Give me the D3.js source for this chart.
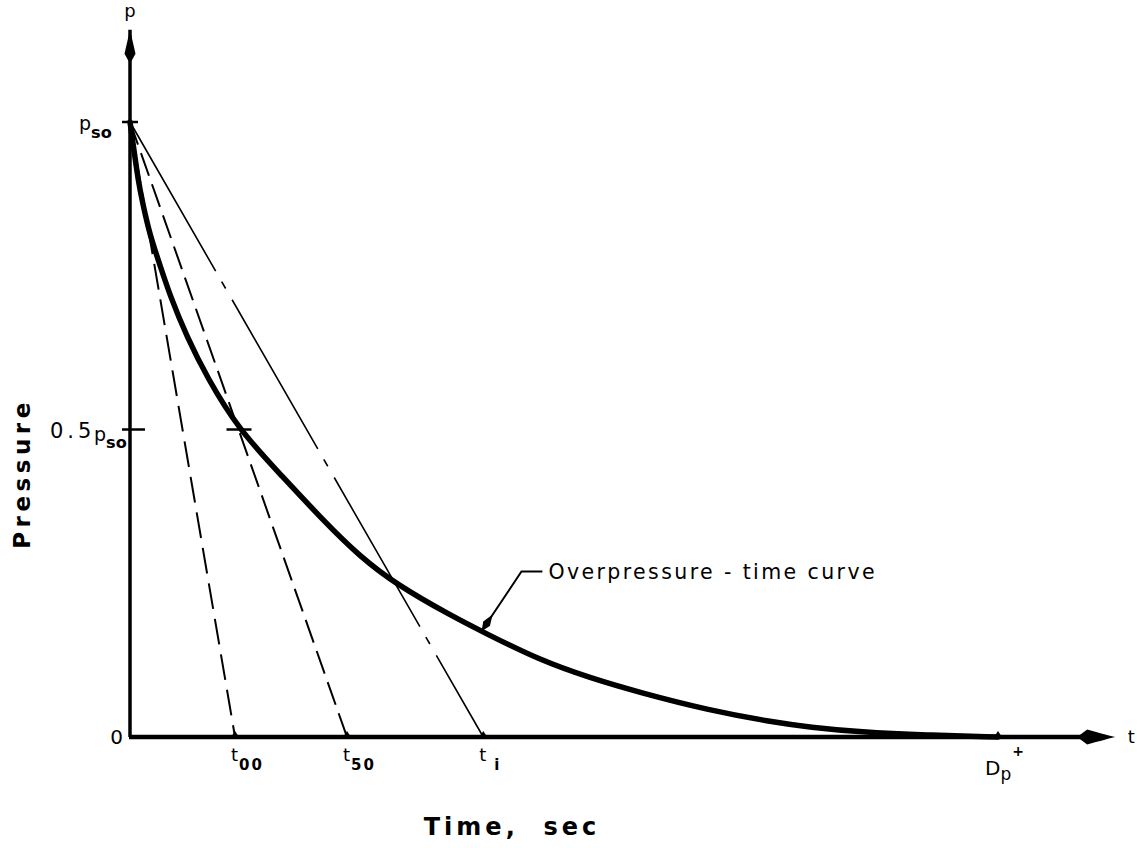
<!DOCTYPE html>
<html>
<head>
<meta charset="utf-8">
<script src="https://cdn.jsdelivr.net/npm/d3@7/dist/d3.min.js"></script>
<style>
  html, body { margin: 0; padding: 0; background: #fff; }
  svg { display: block; }
  text { font-family: "DejaVu Sans", sans-serif; fill: #000; }
</style>
</head>
<body>
<svg id="chart" width="1137" height="848"></svg>
<script>
// ---- data (time normalised to positive phase duration Dp+ = 1, pressure to p_so = 1) ----
const curveTime     = [0, 0.0046, 0.0092, 0.015, 0.023, 0.0346, 0.046, 0.0657, 0.0887, 0.125, 0.176, 0.222, 0.265, 0.308, 0.369, 0.409, 0.472, 0.530, 0.588, 0.665, 0.741, 0.783, 0.841, 0.918, 1.0];
const curvePressure = [1, 0.954, 0.907, 0.865, 0.816, 0.767, 0.718, 0.650, 0.585, 0.500, 0.423, 0.353, 0.293, 0.247, 0.198, 0.169, 0.125, 0.096, 0.072, 0.044, 0.024, 0.016, 0.008, 0.003, 0.0];

const lineNames      = ["00", "50", "i"];          // subscripts of t
const lineIntercepts = [0.121, 0.250, 0.407];      // where the straight lines from p_so meet p = 0
const durationTick   = 1.0;                        // Dp+
const yTickValues    = [0.5, 1.0];                 // 0.5 p_so, p_so
const annotationText = "Overpressure - time curve";
const annotationAt   = [0.405, 0.172];             // arrow tip (t, p)
const annotationElbow = [0.451, 0.269];
const annotationTextAt = [0.482, 0.269];

const svg = d3.select("#chart");
const x = d3.scaleLinear().domain([0, 1]).range([130, 998]);
const y = d3.scaleLinear().domain([0, 1]).range([737, 122]);
const xMax = 1.135, yMax = 1.15;

// ---- reference straight lines ----
const dashes = ["26,10", "24,9", "172,12,8,13"];
const widths = [2, 2, 1.6];
lineIntercepts.forEach((t, i) => {
  svg.append("line")
    .attr("x1", x(0)).attr("y1", y(1))
    .attr("x2", x(t)).attr("y2", y(0))
    .attr("stroke", "#000").attr("stroke-width", widths[i])
    .attr("stroke-dasharray", dashes[i]);
});

// ---- axes ----
svg.append("line").attr("x1", x(0)).attr("y1", y(0)).attr("x2", x(0)).attr("y2", y(yMax))
  .attr("stroke", "#000").attr("stroke-width", 3.5);
svg.append("line").attr("x1", x(0) - 1).attr("y1", y(0)).attr("x2", x(xMax) - 10).attr("y2", y(0))
  .attr("stroke", "#000").attr("stroke-width", 4.5);

// arrowheads
const ax = x(0), ay = y(yMax);
svg.append("path")
  .attr("d", `M${ax},${ay} L${ax + 5.5},${ay + 24} L${ax},${ay + 34} L${ax - 5.5},${ay + 24} Z`)
  .attr("fill", "#000");
const bx = x(xMax), by = y(0);
svg.append("path")
  .attr("d", `M${bx},${by} Q${bx - 12},${by - 3} ${bx - 28},${by - 7.5} L${bx - 38},${by} L${bx - 28},${by + 7.5} Q${bx - 12},${by + 3} ${bx},${by} Z`)
  .attr("fill", "#000");

// y ticks
const yAxis = d3.axisLeft(y).tickValues(yTickValues).tickSize(0).tickFormat("");
svg.append("g").attr("transform", `translate(${x(0)},0)`).call(yAxis).select(".domain").remove();
yTickValues.forEach(v => {
  const len = v === 1 ? 8 : 15;
  svg.append("line").attr("x1", x(0) - 8).attr("x2", x(0) + len)
    .attr("y1", y(v)).attr("y2", y(v)).attr("stroke", "#000").attr("stroke-width", 2.5);
});

// x ticks (small bumps)
[...lineIntercepts, durationTick].forEach(t => {
  svg.append("path")
    .attr("d", `M${x(t) - 4},${y(0)} L${x(t)},${y(0) - 6} L${x(t) + 4},${y(0)} Z`)
    .attr("fill", "#000");
});

// ---- curve ----
const pts = curveTime.map((t, i) => [t, curvePressure[i]]);
svg.append("path")
  .datum(pts)
  .attr("d", d3.line().x(d => x(d[0])).y(d => y(d[1])).curve(d3.curveBasis))
  .attr("fill", "none").attr("stroke", "#000").attr("stroke-width", 5.5).attr("stroke-linecap", "round");

// half-pressure marker on curve
svg.append("line").attr("x1", x(0.125) - 12).attr("x2", x(0.125) + 13)
  .attr("y1", y(0.5)).attr("y2", y(0.5)).attr("stroke", "#000").attr("stroke-width", 2.5);

// ---- annotation ----
const tip = [x(annotationAt[0]), y(annotationAt[1])];
const elb = [x(annotationElbow[0]), y(annotationElbow[1])];
svg.append("path")
  .attr("d", `M${tip[0]},${tip[1]} L${elb[0]},${elb[1]} L${x(annotationTextAt[0]) - 6},${elb[1]}`)
  .attr("fill", "none").attr("stroke", "#000").attr("stroke-width", 2);
// teardrop arrow
const ang = Math.atan2(elb[1] - tip[1], elb[0] - tip[0]);
const L = 20, W = 4;
const cx = Math.cos(ang), sy = Math.sin(ang);
const px = -sy, py = cx;
svg.append("path")
  .attr("d", `M${tip[0]},${tip[1]} L${tip[0] + cx * 9 + px * W},${tip[1] + sy * 9 + py * W} L${tip[0] + cx * L},${tip[1] + sy * L} L${tip[0] + cx * 9 - px * W},${tip[1] + sy * 9 - py * W} Z`)
  .attr("fill", "#000");
svg.append("text")
  .attr("x", x(annotationTextAt[0])).attr("y", y(annotationTextAt[1]) + 7)
  .attr("font-size", 20.5).attr("letter-spacing", 2.4)
  .text(annotationText);

// ---- labels ----
// top "p"
svg.append("text").attr("x", x(0)).attr("y", y(yMax) - 13).attr("text-anchor", "middle")
  .attr("font-size", 18).text("p");
// "t" at arrow end
svg.append("text").attr("x", bx + 16).attr("y", by + 6).attr("text-anchor", "middle")
  .attr("font-size", 18).text("t");

// p_so labels
function pso(g, xx, yy, fs) {
  const t = g.append("text").attr("x", xx).attr("y", yy).attr("font-size", fs);
  t.append("tspan").text("p");
  t.append("tspan").attr("dy", fs * 0.42).attr("font-size", fs * 0.85).attr("font-weight", "bold").text("so");
}
pso(svg, x(0) - 51, y(1) + 8, 19);
// 0.5 p_so
svg.append("text").attr("x", x(0) - 80).attr("y", y(0.5) + 8).attr("font-size", 21)
  .attr("letter-spacing", 4).text("0.5");
pso(svg, x(0) - 36, y(0.5) + 11, 19);
// origin 0
svg.append("text").attr("x", x(0) - 7).attr("y", y(0) + 7).attr("text-anchor", "end")
  .attr("font-size", 20).text("0");

// t labels under the axis
lineIntercepts.forEach((t, i) => {
  const tx = svg.append("text").attr("x", x(t) - 4).attr("y", y(0) + 24).attr("font-size", 18);
  tx.append("tspan").text("t");
  tx.append("tspan").attr("dy", 9).attr("dx", lineNames[i] === "i" ? 8 : 1)
    .attr("font-size", 15).attr("font-weight", "bold").attr("letter-spacing", 2).text(lineNames[i]);
});
// Dp+
{
  const tx = svg.append("text").attr("x", x(durationTick) - 13).attr("y", y(0) + 38).attr("font-size", 20);
  tx.append("tspan").text("D");
  tx.append("tspan").attr("dy", 5).attr("font-size", 17).text("p");
  tx.append("tspan").attr("dy", -24).attr("dx", 1).attr("font-size", 14).attr("font-weight", "bold").text("+");
}

// axis titles
svg.append("text").attr("transform", `translate(30,${y(0.5) + 44}) rotate(-90)`)
  .attr("text-anchor", "middle").attr("font-size", 23).attr("font-weight", "bold")
  .attr("letter-spacing", 4.5).text("Pressure");
svg.append("text").attr("x", 512).attr("y", 835).attr("text-anchor", "middle")
  .attr("font-size", 24).attr("font-weight", "bold").attr("letter-spacing", 4)
  .attr("xml:space", "preserve").text("Time,  sec");
</script>
</body>
</html>
